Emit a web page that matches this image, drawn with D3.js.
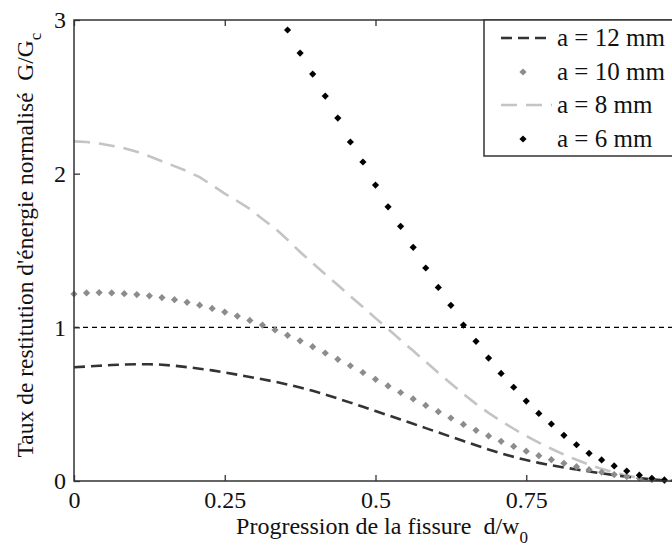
<!DOCTYPE html>
<html lang="fr">
<head>
<meta charset="utf-8">
<title>Taux de restitution d'énergie</title>
<script src="https://d3js.org/d3.v7.min.js"></script>
</head>
<body style="margin:0;background:#fff">
<script>
    // crack progress d/w0, 49 sample points (k/48)
    const progress = d3.range(49).map(k => k / 48);

    const g12 = [0.740,0.745,0.750,0.755,0.758,0.760,0.760,0.757,0.750,0.741,0.731,0.720,0.706,
        0.692,0.677,0.662,0.646,0.628,0.609,0.587,0.562,0.537,0.510,0.483,0.455,0.428,0.400,0.372,
        0.344,0.316,0.288,0.260,0.232,0.205,0.180,0.157,0.136,0.118,0.102,0.088,0.075,0.062,0.050,
        0.038,0.028,0.019,0.011,0.004,0.000];
    const g10 = [1.217,1.224,1.226,1.224,1.219,1.213,1.205,1.194,1.180,1.163,1.144,1.123,1.099,
        1.073,1.045,1.015,0.983,0.948,0.912,0.874,0.833,0.792,0.750,0.706,0.662,0.619,0.576,0.534,
        0.492,0.451,0.410,0.368,0.330,0.293,0.258,0.225,0.194,0.165,0.139,0.115,0.093,0.074,0.057,
        0.042,0.029,0.018,0.009,0.003,0.000];
    const g8 = [2.210,2.206,2.196,2.182,2.165,2.142,2.113,2.081,2.049,2.016,1.977,1.925,1.870,
        1.822,1.770,1.705,1.644,1.570,1.490,1.418,1.346,1.275,1.203,1.132,1.060,0.990,0.918,0.847,
        0.776,0.705,0.635,0.567,0.502,0.443,0.390,0.340,0.293,0.250,0.210,0.172,0.138,0.107,0.079,
        0.055,0.035,0.020,0.009,0.003,0.000];
    // a = 6 mm is above the plot for the first points
    const g6 = [null,null,null,null,null,null,null,null,null,null,null,null,null,null,null,null,null,
        2.935,2.785,2.648,2.505,2.362,2.206,2.076,1.926,1.784,1.657,1.521,1.386,1.260,1.143,1.015,
        0.909,0.800,0.700,0.610,0.520,0.440,0.371,0.297,0.236,0.180,0.137,0.098,0.065,0.038,0.018,
        0.007,0.000];

    const xTicks = [0, 0.25, 0.5, 0.75, 1];
    const yTicks = [0, 1, 2, 3];
    const seriesNames = ["a = 12 mm", "a = 10 mm", "a = 8 mm", "a = 6 mm"];

    const FONT = '"Liberation Serif", "Times New Roman", serif';
    const W = 672, H = 546;
    const plotL = 74, plotT = 20, plotR = 677, plotB = 481;

    const x = d3.scaleLinear().domain([0, 1]).range([plotL, plotR]);
    const y = d3.scaleLinear().domain([0, 3]).range([plotB, plotT]);

    const svg = d3.select("body").append("svg")
        .attr("width", W).attr("height", H)
        .style("font-family", FONT);

    const toPts = vals => progress.map((p, i) => [p, vals[i]]).filter(d => d[1] !== null);
    const line = d3.line().x(d => x(d[0])).y(d => y(d[1]));

    // reference G = Gc
    svg.append("line")
        .attr("x1", x(0)).attr("x2", x(1))
        .attr("y1", y(1)).attr("y2", y(1))
        .attr("stroke", "#000").attr("stroke-width", 1.2)
        .attr("stroke-dasharray", "5,4");

    // a = 8 mm
    svg.append("path").datum(toPts(g8))
        .attr("d", line).attr("fill", "none")
        .attr("stroke", "#c4c4c4").attr("stroke-width", 2.6)
        .attr("stroke-dasharray", "16,9");

    // a = 12 mm
    svg.append("path").datum(toPts(g12))
        .attr("d", line).attr("fill", "none")
        .attr("stroke", "#333").attr("stroke-width", 2.6)
        .attr("stroke-dasharray", "11,6");

    const marker = d3.symbol().type(d3.symbolSquare).size(26);

    svg.append("g").selectAll("path").data(toPts(g10)).join("path")
        .attr("d", marker)
        .attr("transform", d => `translate(${x(d[0])},${y(d[1])}) rotate(45)`)
        .attr("fill", "#8c8c8c");

    svg.append("g").selectAll("path").data(toPts(g6)).join("path")
        .attr("d", marker)
        .attr("transform", d => `translate(${x(d[0])},${y(d[1])}) rotate(45)`)
        .attr("fill", "#000");

    // frame
    svg.append("rect")
        .attr("x", plotL).attr("y", plotT)
        .attr("width", plotR - plotL).attr("height", plotB - plotT)
        .attr("fill", "none").attr("stroke", "#333").attr("stroke-width", 1.5);

    const styleAxis = g => {
        g.attr("font-family", null).attr("font-size", null);
        g.select(".domain").remove();
        g.selectAll(".tick line").attr("stroke", "#333").attr("stroke-width", 1.3);
        g.selectAll(".tick text").attr("fill", "#111")
            .style("font-family", FONT).style("font-size", "24px");
    };

    svg.append("g").attr("transform", `translate(0,${plotB})`)
        .call(d3.axisBottom(x).tickValues(xTicks).tickFormat(d3.format("")).tickSize(-6).tickPadding(10))
        .call(styleAxis);
    svg.append("g").attr("transform", `translate(0,${plotT})`)
        .call(d3.axisTop(x).tickValues(xTicks).tickFormat("").tickSize(-6))
        .call(styleAxis);
    svg.append("g").attr("transform", `translate(${plotL},0)`)
        .call(d3.axisLeft(y).tickValues(yTicks).tickFormat(d3.format("d")).tickSize(-6).tickPadding(8))
        .call(styleAxis);

    // legend
    const lg = svg.append("g");
    lg.append("rect")
        .attr("x", 484).attr("y", plotT).attr("width", 220).attr("height", 136)
        .attr("fill", "#fff").attr("stroke", "#333").attr("stroke-width", 1.5);
    const rowY = [38, 72, 105, 139];
    lg.append("line").attr("x1", 501).attr("x2", 552).attr("y1", rowY[0]).attr("y2", rowY[0])
        .attr("stroke", "#333").attr("stroke-width", 2.6).attr("stroke-dasharray", "11,6");
    lg.append("path").attr("d", marker)
        .attr("transform", `translate(523,${rowY[1]}) rotate(45)`).attr("fill", "#8c8c8c");
    lg.append("line").attr("x1", 501).attr("x2", 552).attr("y1", rowY[2]).attr("y2", rowY[2])
        .attr("stroke", "#c4c4c4").attr("stroke-width", 2.6).attr("stroke-dasharray", "16,9");
    lg.append("path").attr("d", marker)
        .attr("transform", `translate(523,${rowY[3]}) rotate(45)`).attr("fill", "#000");
    lg.selectAll("text.name").data(seriesNames).join("text")
        .attr("class", "name")
        .attr("x", 557).attr("y", (d, i) => rowY[i] + 8)
        .style("font-family", FONT).style("font-size", "25px").attr("fill", "#111")
        .text(d => d);

    // axis titles
    const xt = svg.append("text")
        .attr("x", 382).attr("y", 534)
        .attr("text-anchor", "middle")
        .style("font-family", FONT).style("font-size", "24px")
        .style("white-space", "pre").attr("fill", "#111");
    xt.append("tspan").text("Progression de la fissure  d/w");
    xt.append("tspan").attr("dy", 9).style("font-size", "17px").text("0");

    const yt = svg.append("text")
        .attr("transform", "translate(33,245) rotate(-90)")
        .attr("text-anchor", "middle")
        .style("font-family", FONT).style("font-size", "23.5px")
        .style("white-space", "pre").attr("fill", "#111");
    yt.append("tspan").text("Taux de restitution d'énergie normalisé  G/G");
    yt.append("tspan").attr("dy", 8).style("font-size", "17px").text("c");
</script>
</body>
</html>
